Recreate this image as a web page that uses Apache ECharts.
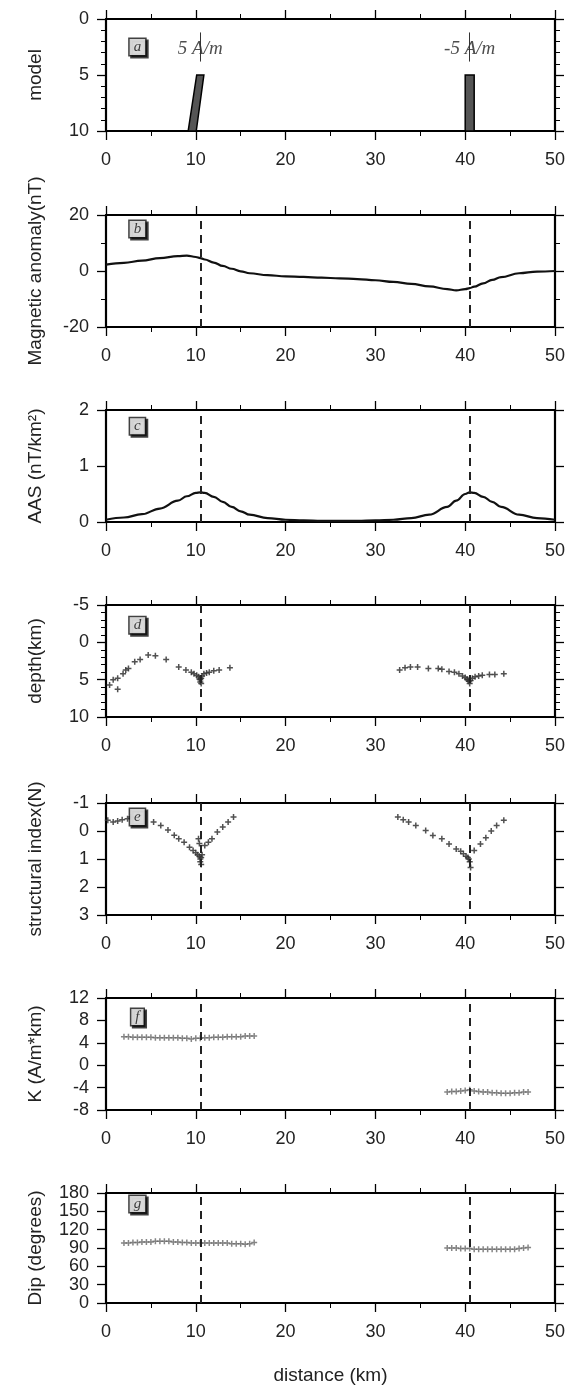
<!DOCTYPE html>
<html>
<head>
<meta charset="utf-8">
<script src="https://cdn.jsdelivr.net/npm/echarts@6/dist/echarts.min.js"></script>
<style>
html, body { margin: 0; padding: 0; background: #fff; }
#chart { width: 574px; height: 1386px; }
</style>
</head>
<body>
<div id="chart"></div>
<script>
// shared distance axis and the two source positions (dashed lines)
const distanceTicks = [0, 10, 20, 30, 40, 50];
const sourceX = [10.5, 40.5];

// (a) model: two thin bodies, outline vertices (distance, depth)
const modelTicks = [0, 5, 10];
const bodyX = [[9.15, 10.05, 10.9, 10.1], [40, 41, 41, 40]];
const bodyDepth = [[10, 10, 5, 5], [10, 10, 5, 5]];
const bodyLabels = ['5 A/m', '-5 A/m'];

// (b) magnetic anomaly and (c) AAS profiles
const profileX = [0, 2, 4, 6, 8, 9, 10, 10.5, 11, 12, 13, 14, 15, 16, 18, 20, 22, 24, 26, 28, 30,
  32, 34, 36, 38, 39, 40, 40.5, 41, 42, 43, 44, 46, 48, 50];
const anomalyTicks = [-20, 0, 20];
const anomaly = [2.3, 2.9, 3.7, 4.6, 5.3, 5.5, 5.0, 4.6, 4.1, 3.0, 1.8, 0.8, -0.1, -0.8, -1.5, -1.9,
  -2.1, -2.4, -2.6, -2.9, -3.3, -3.9, -4.6, -5.5, -6.5, -6.9, -6.5, -6.1, -5.6, -4.4, -3.2, -2.2, -0.8, -0.2, 0.0];
const aasTicks = [0, 1, 2];
const aas = [0.04, 0.08, 0.14, 0.24, 0.38, 0.46, 0.52, 0.53, 0.52, 0.45, 0.36, 0.27, 0.19, 0.13, 0.07, 0.04,
  0.03, 0.02, 0.02, 0.02, 0.03, 0.04, 0.07, 0.13, 0.27, 0.38, 0.50, 0.53, 0.52, 0.45, 0.36, 0.27, 0.13, 0.07, 0.04];

// (d) depth solutions
const depthTicks = [-5, 0, 5, 10];
const depthX = [0.4, 0.8, 1.3, 1.3, 1.9, 2.2, 2.5, 3.2, 3.8, 4.7, 5.5, 6.7, 8.1, 8.9, 9.5, 9.8, 10.1, 10.3, 10.4, 10.5,
  10.5, 10.6, 10.6, 10.7, 10.9, 11.2, 11.5, 12.0, 12.6, 13.8,
  32.7, 33.3, 33.9, 34.7, 35.9, 37.0, 37.4, 38.2, 38.8, 39.3, 39.7, 40.0, 40.2, 40.3, 40.4, 40.5, 40.6, 40.8, 41.1, 41.5,
  41.9, 42.7, 43.3, 44.3];
const depthZ = [5.7, 5.0, 4.8, 6.3, 4.2, 3.7, 3.5, 2.6, 2.3, 1.7, 1.8, 2.3, 3.3, 3.7, 4.0, 4.2, 4.4, 4.6, 4.9, 5.0,
  5.3, 5.5, 4.8, 4.5, 4.2, 4.1, 4.0, 3.8, 3.7, 3.4,
  3.7, 3.4, 3.3, 3.3, 3.5, 3.5, 3.6, 3.9, 4.0, 4.2, 4.5, 4.7, 4.9, 5.0, 5.2, 5.5, 5.1, 4.8, 4.6, 4.5,
  4.4, 4.3, 4.3, 4.2];

// (e) structural index solutions
const indexTicks = [-1, 0, 1, 2, 3];
const indexX = [0.2, 0.8, 1.3, 1.8, 2.4, 2.8, 3.6, 5.3, 6.1, 6.9, 7.6, 8.1, 8.7, 9.3, 9.7, 10.0, 10.2, 10.3, 10.4, 10.4,
  10.5, 10.5, 10.6, 10.6, 10.7, 11.0, 11.4, 11.8, 12.4, 13.0, 13.6, 14.2,
  32.5, 33.1, 33.7, 34.5, 35.6, 36.4, 37.4, 38.2, 39.0, 39.5, 39.8, 40.1, 40.3, 40.4, 40.5, 40.6, 41.0, 41.7, 42.3, 42.9,
  43.5, 44.3];
const indexN = [-0.38, -0.32, -0.36, -0.4, -0.44, -0.5, -0.56, -0.32, -0.2, -0.04, 0.15, 0.28, 0.4, 0.58, 0.7, 0.78, 0.85, 0.28, 0.45, 0.9,
  1.0, 1.1, 1.2, 0.95, 0.85, 0.52, 0.4, 0.28, 0.04, -0.14, -0.32, -0.5,
  -0.5, -0.4, -0.32, -0.2, -0.02, 0.16, 0.28, 0.46, 0.64, 0.72, 0.81, 0.9, 0.95, 1.0, 1.1, 1.3, 0.7, 0.46, 0.24, 0.0,
  -0.2, -0.38];

// (f) K and (g) dip solutions
const solLeftX = [2, 2.5, 3, 3.5, 4, 4.5, 5, 5.5, 6, 6.5, 7, 7.5, 8, 8.5, 9, 9.5, 10, 10.5, 11, 11.5,
  12, 12.5, 13, 13.5, 14, 14.5, 15, 15.5, 16, 16.5];
const solRightX = [38, 38.5, 39, 39.5, 40, 40.5, 41, 41.5, 42, 42.5, 43, 43.5, 44, 44.5, 45, 45.5, 46, 46.5, 47];
const kTicks = [-8, -4, 0, 4, 8, 12];
const kLeft = [5.1, 5.1, 5.0, 5.0, 5.0, 5.0, 5.0, 4.9, 4.9, 4.9, 4.9, 4.9, 4.9, 4.8, 4.8, 4.7, 4.8, 4.8, 4.9, 4.9,
  5.0, 5.0, 5.0, 5.1, 5.1, 5.1, 5.1, 5.2, 5.2, 5.2];
const kRight = [-4.8, -4.7, -4.7, -4.6, -4.5, -4.4, -4.6, -4.7, -4.8, -4.8, -4.9, -4.9, -5.0, -5.0, -5.0, -4.9, -4.9, -4.8, -4.8];
const dipTicks = [0, 30, 60, 90, 120, 150, 180];
const dipLeft = [98, 98, 99, 99, 100, 100, 100, 101, 101, 101, 101, 100, 100, 99, 99, 98, 98, 98, 98, 98,
  98, 98, 98, 98, 97, 97, 97, 96, 97, 99];
const dipRight = [90, 90, 90, 89, 89, 89, 88, 88, 88, 88, 88, 88, 88, 88, 88, 88, 89, 90, 91];

// panel letters and where their boxes sit (distance, value)
const panelLetters = ['a', 'b', 'c', 'd', 'e', 'f', 'g'];
const letterPos = [[3.5, 2.5], [3.5, 15], [3.5, 1.71], [3.5, -2.3], [3.5, -0.5], [3.5, 8.6], [3.5, 162]];

const FONT = 'Liberation Sans, Arial, sans-serif';
const SERIF = 'Liberation Serif, Times New Roman, serif';
const tops = [19, 215, 410, 605, 803, 998, 1193];
const panels = [
  {name: 'model', ticks: modelTicks, inverse: true, minor: 5},
  {name: 'Magnetic anomaly(nT)', ticks: anomalyTicks, inverse: false, minor: 2},
  {name: 'AAS (nT/km²)', ticks: aasTicks, inverse: false, minor: 0},
  {name: 'depth(km)', ticks: depthTicks, inverse: true, minor: 5},
  {name: 'structural index(N)', ticks: indexTicks, inverse: true, minor: 0},
  {name: 'K (A/m*km)', ticks: kTicks, inverse: false, minor: 0},
  {name: 'Dip (degrees)', ticks: dipTicks, inverse: false, minor: 0}
];

const frame = {show: true, onZero: false, lineStyle: {color: '#000', width: 2.2}};
const tick = {show: true, inside: false, length: 9, lineStyle: {color: '#000', width: 1.3}};
const labelStyle = {fontSize: 18, color: '#222', fontFamily: FONT};
const nameStyle = {fontSize: 19, color: '#222', fontFamily: FONT};

const grids = [], xAxes = [], yAxes = [], series = [];

panels.forEach((p, i) => {
    grids.push({left: 106, width: 449, top: tops[i], height: 112});
    const xBase = {
        type: 'value', gridIndex: i,
        min: distanceTicks[0], max: distanceTicks[distanceTicks.length - 1],
        interval: distanceTicks[1] - distanceTicks[0],
        axisLine: frame, axisTick: tick,
        minorTick: {show: true, splitNumber: 2, length: 5, lineStyle: {color: '#000', width: 1}},
        splitLine: {show: false}
    };
    xAxes.push(Object.assign({}, xBase, {
        position: 'bottom',
        axisLabel: Object.assign({margin: 20}, labelStyle),
        name: i === panels.length - 1 ? 'distance (km)' : '',
        nameLocation: 'middle', nameGap: 63,
        nameTextStyle: nameStyle
    }));
    xAxes.push(Object.assign({}, xBase, {position: 'top', axisLabel: {show: false}}));

    const yBase = {
        type: 'value', gridIndex: i, inverse: p.inverse,
        min: p.ticks[0], max: p.ticks[p.ticks.length - 1],
        interval: p.ticks[1] - p.ticks[0],
        axisLine: frame, axisTick: tick,
        minorTick: {show: p.minor > 0, splitNumber: p.minor || 5, length: 5, lineStyle: {color: '#000', width: 1}},
        splitLine: {show: false}
    };
    yAxes.push(Object.assign({}, yBase, {
        position: 'left',
        axisLabel: Object.assign({margin: 17}, labelStyle),
        name: p.name, nameLocation: 'middle', nameGap: 61, nameRotate: 90,
        nameTextStyle: nameStyle
    }));
    yAxes.push(Object.assign({}, yBase, {position: 'right', axisLabel: {show: false}}));
});

const dashed = {
    silent: true, symbol: 'none', label: {show: false},
    lineStyle: {color: '#222', width: 2, type: [8, 6]},
    data: sourceX.map(v => ({xAxis: v}))
};
const cross = 'path://M-1,-4H1V-1H4V1H1V4H-1V1H-4V-1H-1Z';
const ax = i => ({xAxisIndex: 2 * i, yAxisIndex: 2 * i});

// (a) model bodies
series.push(Object.assign(ax(0), {
    type: 'custom',
    data: bodyX.map((xs, k) => [xs[0], bodyDepth[k][0]]),
    encode: {x: 0, y: 1},
    renderItem: (params, api) => {
        const k = params.dataIndex;
        const pts = bodyX[k].map((x, j) => api.coord([x, bodyDepth[k][j]]));
        return {type: 'polygon', shape: {points: pts}, style: {fill: '#555', stroke: '#000', lineWidth: 1.5}};
    },
    markLine: {
        silent: true, symbol: 'none', label: {show: false},
        lineStyle: {color: '#333', width: 1, type: 'solid'},
        data: sourceX.map(v => [{coord: [v, 1.2]}, {coord: [v, 3.8]}])
    }
}));
series.push(Object.assign(ax(0), {
    type: 'scatter', symbolSize: 1, itemStyle: {color: 'rgba(0,0,0,0)'},
    data: sourceX.map(v => [v, 2.7]),
    label: {
        show: true, position: 'inside', formatter: p => bodyLabels[p.dataIndex],
        fontFamily: SERIF, fontStyle: 'italic', fontSize: 19, color: '#222'
    }
}));

// (b), (c) profiles
series.push(Object.assign(ax(1), {
    type: 'line', data: profileX.map((x, k) => [x, anomaly[k]]),
    smooth: 0.4, smoothMonotone: 'x', showSymbol: false,
    lineStyle: {color: '#111', width: 2.2}, markLine: dashed
}));
series.push(Object.assign(ax(2), {
    type: 'line', data: profileX.map((x, k) => [x, aas[k]]),
    smooth: 0.4, smoothMonotone: 'x', showSymbol: false,
    lineStyle: {color: '#111', width: 2.2}, markLine: dashed
}));

// (d), (e) solutions as crosses
series.push(Object.assign(ax(3), {
    type: 'scatter', symbol: cross, symbolSize: 6, itemStyle: {color: '#333', opacity: 0.85},
    data: depthX.map((x, k) => [x, depthZ[k]]), markLine: dashed
}));
series.push(Object.assign(ax(4), {
    type: 'scatter', symbol: cross, symbolSize: 6, itemStyle: {color: '#333', opacity: 0.85},
    data: indexX.map((x, k) => [x, indexN[k]]), markLine: dashed
}));

// (f), (g) K and dip
series.push(Object.assign(ax(5), {
    type: 'scatter', symbol: cross, symbolSize: 6, itemStyle: {color: '#666', opacity: 0.8},
    data: solLeftX.map((x, k) => [x, kLeft[k]]).concat(solRightX.map((x, k) => [x, kRight[k]])),
    markLine: dashed
}));
series.push(Object.assign(ax(6), {
    type: 'scatter', symbol: cross, symbolSize: 6, itemStyle: {color: '#666', opacity: 0.8},
    data: solLeftX.map((x, k) => [x, dipLeft[k]]).concat(solRightX.map((x, k) => [x, dipRight[k]])),
    markLine: dashed
}));

// panel letter boxes
panelLetters.forEach((l, i) => {
    series.push(Object.assign(ax(i), {
        type: 'scatter', symbolSize: 1, itemStyle: {color: 'rgba(0,0,0,0)'}, z: 10,
        data: [letterPos[i]],
        label: {
            show: true, position: 'inside', formatter: l,
            fontFamily: SERIF, fontStyle: 'italic', fontSize: 15, color: '#111',
            backgroundColor: '#fff', borderColor: '#111', borderWidth: 1.5,
            padding: [1, 4, 0, 4],
            shadowColor: '#111', shadowOffsetX: 2, shadowOffsetY: 2, shadowBlur: 0
        }
    }));
});

const chart = echarts.init(document.getElementById('chart'));
chart.setOption({
    animation: false,
    backgroundColor: '#fff',
    grid: grids,
    xAxis: xAxes,
    yAxis: yAxes,
    series: series
});
</script>
</body>
</html>
